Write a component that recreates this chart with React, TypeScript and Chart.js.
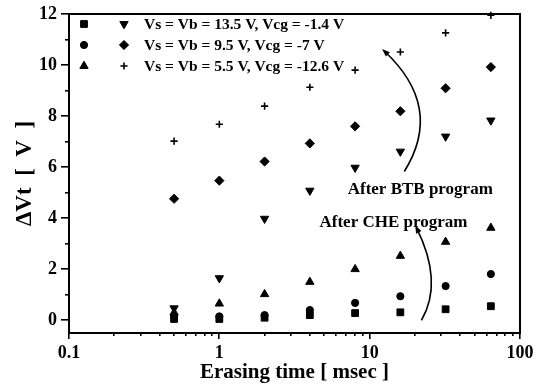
import React, { useEffect, useRef } from 'react';
import { Chart, registerables } from 'chart.js';
import { drawPoint } from 'chart.js/helpers';

Chart.register(...registerables);

// Erasing time [msec]
const erasingTime = [0.5, 1, 2, 4, 8, 16, 32, 64];
// After CHE program
const cheSquare135 = [0.05, 0.05, 0.1, 0.2, 0.28, 0.31, 0.43, 0.55];
const cheCircle95 = [0.15, 0.15, 0.2, 0.4, 0.68, 0.94, 1.34, 1.81];
const cheTriangle55 = [0.3, 0.65, 1.02, 1.5, 2.0, 2.52, 3.07, 3.62];
// After BTB program
const btbInvTriangle135 = [0.47, 1.65, 3.98, 5.08, 5.98, 6.61, 7.2, 7.83];
const btbDiamond95 = [4.76, 5.47, 6.22, 6.93, 7.6, 8.19, 9.09, 9.92];
const btbPlus55 = [7.02, 7.68, 8.39, 9.13, 9.8, 10.51, 11.26, 11.95];

const conditionLabels = [
  'Vs = Vb = 13.5 V, Vcg = -1.4 V',
  'Vs = Vb = 9.5 V, Vcg = -7 V',
  'Vs = Vb = 5.5 V, Vcg = -12.6 V',
];
const xTickLabels = [0.1, 1, 10, 100];
const yTickLabels = [0, 2, 4, 6, 8, 10, 12];

// annotation anchors in data units [msec, V]
const btbText = { x: 21.7, y: 5.12, text: 'After BTB program' };
const cheText = { x: 14.4, y: 3.82, text: 'After CHE program' };
const btbArrow = [[17.0, 5.83], [21.4, 8.27], [12.5, 10.55]];
const cheArrow = [[22.1, 0.0], [25.7, 1.65], [20.5, 3.62]];

const FONT = 'Liberation Serif';

const styles: any[] = [
  { pointStyle: 'rect', radius: 4.8, rotation: 0, borderWidth: 1 },
  { pointStyle: 'circle', radius: 3.6, rotation: 0, borderWidth: 1 },
  { pointStyle: 'triangle', radius: 4.8, rotation: 0, borderWidth: 1 },
  { pointStyle: 'triangle', radius: 4.8, rotation: 180, borderWidth: 1 },
  { pointStyle: 'rectRot', radius: 4.6, rotation: 0, borderWidth: 1 },
  { pointStyle: 'cross', radius: 3.6, rotation: 0, borderWidth: 1.6 },
];
const seriesValues = [cheSquare135, cheCircle95, cheTriangle55, btbInvTriangle135, btbDiamond95, btbPlus55];
const seriesLabels = [
  conditionLabels[0] + ' (CHE)', conditionLabels[1] + ' (CHE)', conditionLabels[2] + ' (CHE)',
  conditionLabels[0] + ' (BTB)', conditionLabels[1] + ' (BTB)', conditionLabels[2] + ' (BTB)',
];

const decorPlugin = {
  id: 'decor',
  afterDraw(chart: any) {
    const { ctx, chartArea: a, scales } = chart;
    const xs = scales.x;
    const ys = scales.y;
    ctx.save();
    ctx.globalAlpha = 1;
    ctx.setLineDash([]);
    ctx.strokeStyle = '#000000';
    ctx.fillStyle = '#000000';
    const L = Math.round(a.left), R = Math.round(a.right), T = Math.round(a.top), B = Math.round(a.bottom);
    // frame
    ctx.fillRect(L - 1, T - 1, R - L + 2, 2);
    ctx.fillRect(L - 1, B - 1, R - L + 2, 2);
    ctx.fillRect(L - 1, T - 1, 2, B - T + 2);
    ctx.fillRect(R - 1, T - 1, 2, B - T + 2);
    // x ticks (log minor + major)
    for (let d = 0.1; d < 50; d *= 10) {
      for (let m = 1; m <= 9; m++) {
        const px = Math.round(xs.getPixelForValue(m * d));
        const len = m === 1 ? 6 : 3;
        ctx.fillRect(px - 1, B, 1.6, len);
      }
    }
    ctx.fillRect(R - 1, B, 1.6, 6);
    // y ticks
    for (let v = 0; v <= 12; v++) {
      const py = Math.round(ys.getPixelForValue(v));
      const len = v % 2 === 0 ? 8 : 4;
      ctx.fillRect(L - len, py - 1, len, 1.6);
    }

    // legend
    ctx.font = `bold 15.5px "${FONT}"`;
    ctx.textBaseline = 'middle';
    ctx.textAlign = 'left';
    const rowY = [10, 31, 52];
    for (let r = 0; r < 3; r++) {
      const y = a.top + rowY[r];
      const s1 = styles[r];
      const s2 = styles[r + 3];
      ctx.lineWidth = s1.borderWidth;
      drawPoint(ctx, s1, a.left + 15, y);
      ctx.lineWidth = s2.borderWidth;
      drawPoint(ctx, s2, a.left + 55, y);
      ctx.fillStyle = '#000';
      ctx.fillText(conditionLabels[r], a.left + 75, y + 1);
    }

    // annotation texts
    ctx.font = `bold 17px "${FONT}"`;
    ctx.textAlign = 'center';
    for (const t of [btbText, cheText]) {
      ctx.fillText(t.text, xs.getPixelForValue(t.x), ys.getPixelForValue(t.y));
    }

    // arrows
    const drawArrow = (pts: number[][]) => {
      const P = pts.map(([vx, vy]) => [xs.getPixelForValue(vx), ys.getPixelForValue(vy)]);
      const c = [2 * P[1][0] - (P[0][0] + P[2][0]) / 2, 2 * P[1][1] - (P[0][1] + P[2][1]) / 2];
      ctx.lineWidth = 1.6;
      ctx.strokeStyle = '#000';
      ctx.beginPath();
      ctx.moveTo(P[0][0], P[0][1]);
      ctx.quadraticCurveTo(c[0], c[1], P[2][0], P[2][1]);
      ctx.stroke();
      const ang = Math.atan2(P[2][1] - c[1], P[2][0] - c[0]);
      const HL = 8, W = 3;
      const tx = P[2][0] + Math.cos(ang) * 3;
      const ty = P[2][1] + Math.sin(ang) * 3;
      ctx.beginPath();
      ctx.moveTo(tx, ty);
      ctx.lineTo(tx - HL * Math.cos(ang) + W * Math.sin(ang), ty - HL * Math.sin(ang) - W * Math.cos(ang));
      ctx.lineTo(tx - HL * Math.cos(ang) - W * Math.sin(ang), ty - HL * Math.sin(ang) + W * Math.cos(ang));
      ctx.closePath();
      ctx.fill();
    };
    drawArrow(btbArrow);
    drawArrow(cheArrow);
    ctx.restore();
  },
};

export default function App() {
  const ref = useRef<HTMLCanvasElement>(null);
  useEffect(() => {
    const datasets = seriesValues.map((vals, i) => ({
      label: seriesLabels[i],
      data: vals.map((v, j) => ({ x: erasingTime[j], y: v })),
      showLine: false,
      clip: false as any,
      pointStyle: styles[i].pointStyle,
      pointRotation: styles[i].rotation,
      pointRadius: styles[i].radius,
      pointBorderWidth: styles[i].borderWidth,
      backgroundColor: '#000',
      borderColor: '#000',
    }));
    const tickFont = { family: FONT, weight: 'bold' as any, size: 18 };
    const chart = new Chart(ref.current!, {
      type: 'scatter',
      data: { datasets },
      plugins: [decorPlugin],
      options: {
        animation: false,
        responsive: false,
        devicePixelRatio: 1,
        layout: { padding: { top: 14, right: 16, left: 0, bottom: 0 } },
        plugins: { legend: { display: false }, tooltip: { enabled: false } },
        scales: {
          x: {
            type: 'logarithmic',
            min: 0.1,
            max: 100,
            grid: { display: false, drawTicks: false },
            border: { display: false },
            afterBuildTicks: (s: any) => { s.ticks = xTickLabels.map((v) => ({ value: v })); },
            afterFit: (s: any) => { s.height = 52; s.paddingLeft = 0; s.paddingRight = 0; },
            ticks: {
              color: '#000',
              font: tickFont,
              padding: 10,
              maxRotation: 0,
              autoSkip: false,
              callback: (v: any) => String(v),
            },
            title: {
              display: true,
              text: 'Erasing time [ msec ]',
              color: '#000',
              font: { family: FONT, weight: 'bold' as any, size: 21 },
              padding: { top: 0, bottom: 0 },
            },
          },
          y: {
            type: 'linear',
            min: -0.5,
            max: 12,
            grid: { display: false, drawTicks: false },
            border: { display: false },
            afterBuildTicks: (s: any) => { s.ticks = yTickLabels.map((v) => ({ value: v })); },
            afterFit: (s: any) => { s.width = 69; s.paddingTop = 0; s.paddingBottom = 0; },
            ticks: { color: '#000', font: tickFont, padding: 12, autoSkip: false },
            title: {
              display: true,
              text: 'ΔVt  [  V  ]',
              color: '#000',
              font: { family: FONT, weight: 'bold' as any, size: 23 },
              padding: { top: 11, bottom: 0 },
            },
          },
        },
      },
    } as any);
    return () => chart.destroy();
  }, []);
  return (
    <div style={{ position: 'absolute', left: 0, top: 0, width: 536, height: 385, background: '#fff' }}>
      <canvas ref={ref} width={536} height={385} style={{ display: 'block', width: 536, height: 385 }} />
    </div>
  );
}
